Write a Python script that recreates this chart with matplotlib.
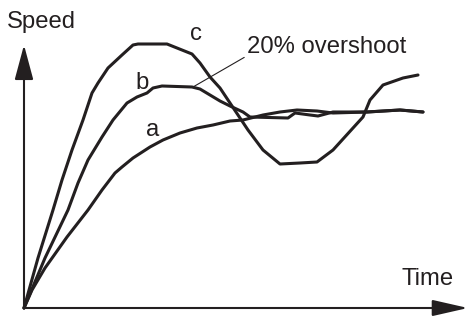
import matplotlib
matplotlib.use('Agg')
import matplotlib.pyplot as plt

# 字体：Arial 度量的 Liberation Sans
plt.rcParams['font.family'] = ['Liberation Sans', 'DejaVu Sans']

# 曲线数据（时间, 速度）
time_c = [0, 14, 29, 38, 48, 59, 68, 74, 84, 98, 109, 114, 143, 168, 176, 186, 196, 206, 216, 224,
          239, 256, 276, 293, 309, 339, 346, 359, 379, 394]
speed_c = [0, 50, 98, 128, 158, 188, 215, 225, 240, 253, 263, 264, 264, 254, 245, 231, 220, 205, 190, 178,
           158, 144, 145, 146, 158, 191, 208, 223, 230, 233]

time_b = [0, 21, 44, 54, 64, 78, 89, 103, 113, 123, 129, 138, 168, 176, 186, 196, 206, 219, 226,
          264, 271, 286, 294, 309, 343, 376, 399]
speed_b = [0, 50, 98, 125, 148, 171, 188, 205, 211, 215, 220, 222, 221, 219, 213, 207, 202, 196, 191,
           190, 195, 193, 192, 196, 196, 198, 196]

time_a = [0, 8, 21, 43, 64, 78, 91, 98, 109, 126, 139, 156, 173, 189, 206, 219, 239, 256, 273, 293,
          309, 343, 376, 399]
speed_a = [0, 18, 40, 71, 98, 118, 135, 141, 150, 161, 168, 175, 180, 183, 187, 188, 193, 196, 198, 197,
           195, 196, 198, 196]

curve_names = ['a', 'b', 'c']
label_pos = {'a': (129, 172), 'b': (118, 219), 'c': (172, 268)}

ink = '#231f20'
fs = 17.2

fig = plt.figure(figsize=(4.68, 3.16), dpi=100)
ax = fig.add_axes([0, 0, 1, 1])
ax.set_xlim(-24, 444)
ax.set_ylim(-8, 308)
ax.axis('off')

for t, v in [(time_a, speed_a), (time_b, speed_b), (time_c, speed_c)]:
    ax.plot(t, v, color=ink, lw=2.2, solid_joinstyle='round', solid_capstyle='round')

for name in curve_names:
    ax.text(label_pos[name][0], label_pos[name][1], name, fontsize=fs, color=ink,
            ha='center', va='baseline')

# 坐标轴箭头
ax.annotate('', xy=(0, 263), xytext=(0, 0), annotation_clip=False,
            arrowprops=dict(arrowstyle='-|>,head_length=21.6,head_width=5.8', mutation_scale=1,
                            lw=1.5, color=ink, shrinkA=0, shrinkB=0))
ax.annotate('', xy=(444, 0), xytext=(0, 0), annotation_clip=False,
            arrowprops=dict(arrowstyle='-|>,head_length=22,head_width=5', mutation_scale=1,
                            lw=1.5, color=ink, shrinkA=0, shrinkB=0))

ax.text(-17, 280, 'Speed', fontsize=fs, color=ink, ha='left', va='baseline')
ax.text(378, 23, 'Time', fontsize=fs, color=ink, ha='left', va='baseline')

# 20% 超调标注
ax.annotate('20% overshoot', xy=(169, 221), xytext=(223, 255), fontsize=fs, color=ink,
            ha='left', va='baseline',
            arrowprops=dict(arrowstyle='-', lw=0.8, color=ink, shrinkA=0, shrinkB=0,
                            relpos=(0, 0.1)))

plt.savefig('out.png', dpi=100)
